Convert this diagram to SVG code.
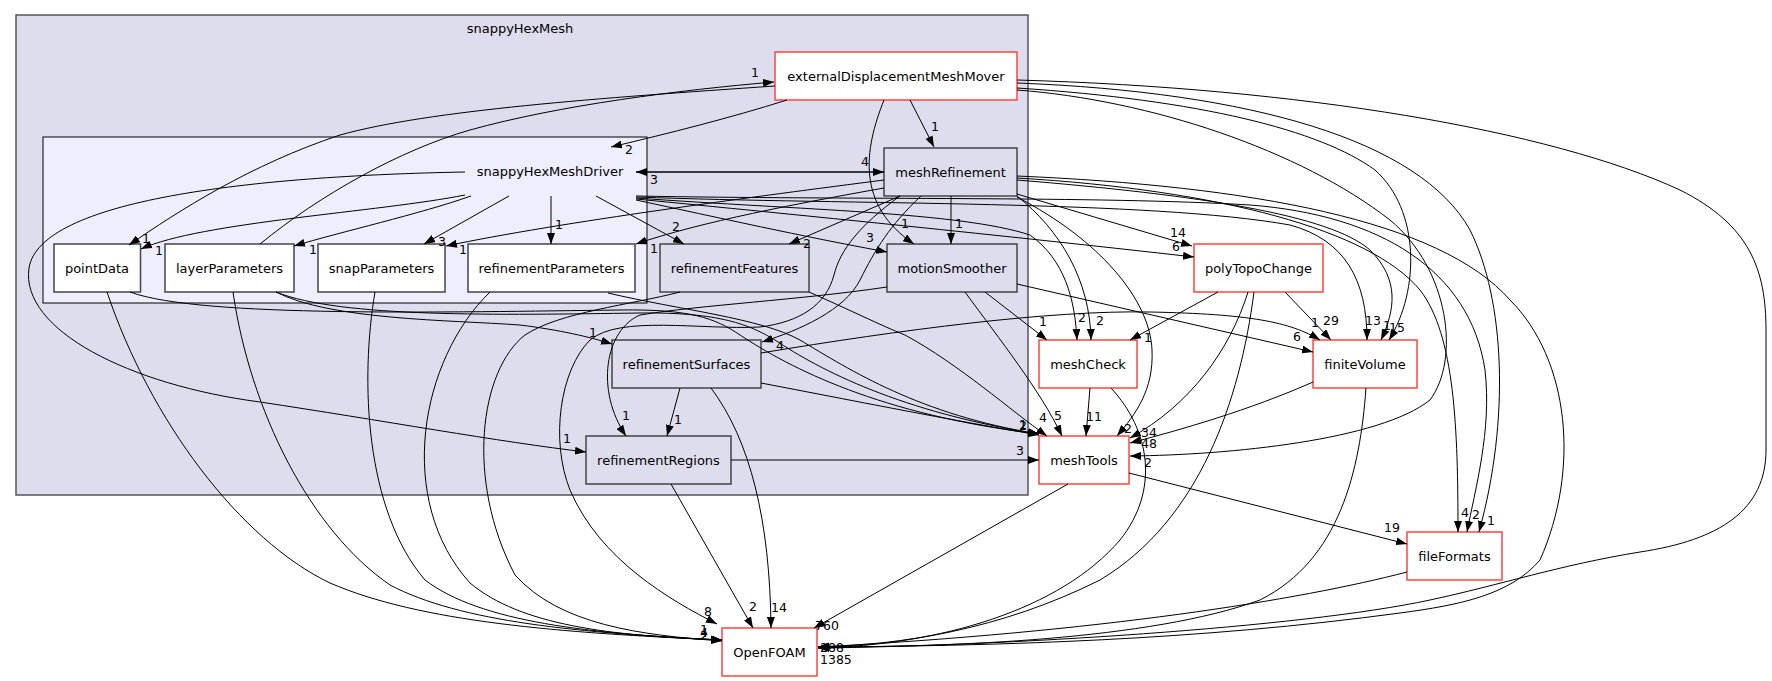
<svg xmlns="http://www.w3.org/2000/svg" width="1772" height="681" viewBox="0 0 1772 681">
<defs>
<marker id="ah" markerUnits="userSpaceOnUse" markerWidth="11" markerHeight="8" viewBox="0 0 11 8" refX="11" refY="4" orient="auto-start-reverse"><path d="M0,0 L11,4 L0,8 z" fill="#000"/></marker>
<style>
.co{fill:#ddddee;stroke:#555;stroke-width:1.5}
.ci{fill:#eeeeff;stroke:#000;stroke-width:1}
.nw{fill:#fff;stroke:#444;stroke-width:1.5}
.nc{fill:#ddddee;stroke:#444;stroke-width:1.5}
.nr{fill:#fff;stroke:#ff4444;stroke-width:1.5}
.t{font-family:"DejaVu Sans",sans-serif;font-size:13px;text-anchor:middle;fill:#000}
.e path{fill:none;stroke:#000;stroke-width:1;marker-end:url(#ah)}
.l{font-family:"DejaVu Sans",sans-serif;font-size:12.5px;text-anchor:middle;fill:#000}
</style>
</defs>
<rect width="1772" height="681" fill="#fff"/>
<g id="cluster_snappyHexMesh"><rect class="co" x="16" y="15" width="1012" height="480"/><text class="t" x="520" y="33">snappyHexMesh</text></g>
<g id="cluster_snappyHexMeshDriver"><rect class="ci" x="43" y="137" width="604" height="166"/><text class="t" x="550" y="176">snappyHexMeshDriver</text></g>
<g id="n_externalDisplacementMeshMover"><rect class="nr" x="775" y="52" width="242" height="48"/><text class="t" x="896" y="80.5">externalDisplacementMeshMover</text></g>
<g id="n_meshRefinement"><rect class="nc" x="884" y="148" width="133" height="48"/><text class="t" x="950.5" y="176.5">meshRefinement</text></g>
<g id="n_pointData"><rect class="nw" x="54" y="244" width="86.5" height="48"/><text class="t" x="97" y="272.5">pointData</text></g>
<g id="n_layerParameters"><rect class="nw" x="165" y="244" width="129" height="48"/><text class="t" x="229.5" y="272.5">layerParameters</text></g>
<g id="n_snapParameters"><rect class="nw" x="318" y="244" width="127" height="48"/><text class="t" x="381.5" y="272.5">snapParameters</text></g>
<g id="n_refinementParameters"><rect class="nw" x="468" y="244" width="167" height="48"/><text class="t" x="551.5" y="272.5">refinementParameters</text></g>
<g id="n_refinementFeatures"><rect class="nc" x="660" y="244" width="149" height="48"/><text class="t" x="734.5" y="272.5">refinementFeatures</text></g>
<g id="n_motionSmoother"><rect class="nc" x="887" y="244" width="130" height="48"/><text class="t" x="952" y="272.5">motionSmoother</text></g>
<g id="n_refinementSurfaces"><rect class="nc" x="612" y="340" width="149" height="48"/><text class="t" x="686.5" y="368.5">refinementSurfaces</text></g>
<g id="n_refinementRegions"><rect class="nc" x="586" y="436" width="145" height="48"/><text class="t" x="658.5" y="464.5">refinementRegions</text></g>
<g id="n_meshCheck"><rect class="nr" x="1039" y="340" width="98" height="48"/><text class="t" x="1088" y="368.5">meshCheck</text></g>
<g id="n_meshTools"><rect class="nr" x="1039" y="436" width="90" height="48"/><text class="t" x="1084" y="464.5">meshTools</text></g>
<g id="n_OpenFOAM"><rect class="nr" x="722" y="628" width="95" height="48"/><text class="t" x="769.5" y="656.5">OpenFOAM</text></g>
<g id="n_polyTopoChange"><rect class="nr" x="1194" y="244" width="129" height="48"/><text class="t" x="1258.5" y="272.5">polyTopoChange</text></g>
<g id="n_finiteVolume"><rect class="nr" x="1313" y="340" width="104" height="48"/><text class="t" x="1365" y="368.5">finiteVolume</text></g>
<g id="n_fileFormats"><rect class="nr" x="1407" y="532" width="95" height="48"/><text class="t" x="1454.5" y="560.5">fileFormats</text></g>
<g id="connectors" class="e">
<path d="M787,100 C730,118 670,133 611,147"/>
<path d="M910,100 L934,147"/>
<path d="M884,100 C864,150 856,205 914,244"/>
<path d="M775,86 C600,98 430,110 340,135 C250,165 180,210 129,245"/>
<path d="M260,244 C320,195 400,150 470,130 C560,105 680,90 774,82"/>
<path d="M1017,88 C1200,100 1320,130 1375,170 C1420,210 1420,290 1389,340"/>
<path d="M1017,90 C1150,100 1300,150 1390,220 C1450,270 1460,360 1430,400 C1380,440 1230,455 1130,456"/>
<path d="M1017,83 C1250,92 1420,140 1470,230 C1505,300 1510,420 1479,532"/>
<path d="M1017,80 C1300,88 1550,130 1680,190 C1750,225 1766,270 1766,330 L1766,450 C1766,510 1720,540 1640,552 C1560,565 1500,585 1430,600 C1300,628 1000,646 818,648"/>
<path d="M1017,176 C1250,186 1440,220 1510,300 C1570,360 1580,470 1540,560 C1510,595 1460,605 1400,613 C1200,640 1000,646 818,647"/>
<path d="M1017,178 C1220,190 1370,230 1420,290 C1455,335 1458,430 1458,532"/>
<path d="M1017,180 C1200,195 1330,215 1370,250 C1400,280 1395,310 1381,340"/>
<path d="M636,196 C850,200 1100,196 1250,205 C1380,215 1470,270 1485,370 C1492,430 1475,490 1467,532"/>
<path d="M636,197 C850,205 1150,200 1290,225 C1345,240 1367,280 1367,340"/>
<path d="M636,198 C800,210 960,212 1030,235 C1065,260 1075,300 1077,340"/>
<path d="M636,199 C800,215 1000,235 1194,257"/>
<path d="M636,200 C720,218 800,236 887,252"/>
<path d="M636,172 L884,172" style="marker-start:url(#ah);stroke-width:1.6"/>
<path d="M884,180 C760,196 560,222 446,246"/>
<path d="M884,188 C800,203 700,222 636,244"/>
<path d="M900,196 L789,244"/>
<path d="M951,196 L951,244"/>
<path d="M921,196 C890,225 875,250 860,280 C845,310 800,330 762,342"/>
<path d="M900,196 C860,225 840,250 834,275 C826,305 800,322 760,327 C700,330 620,315 590,340 C560,370 550,440 570,490 C600,560 670,600 717,624"/>
<path d="M887,287 C800,300 700,305 640,315 C605,330 595,390 626,436"/>
<path d="M680,292 C630,305 560,312 525,335 C480,370 465,480 515,575 C560,625 640,635 722,641"/>
<path d="M107,292 C150,420 240,540 330,583 C420,622 560,633 722,640"/>
<path d="M233,292 C250,410 310,530 390,585 C460,622 580,633 722,640"/>
<path d="M375,292 C360,380 365,510 425,580 C480,622 590,634 722,640"/>
<path d="M490,292 C420,360 395,500 470,583 C520,625 610,636 722,640"/>
<path d="M130,292 C200,318 450,312 620,310 C690,309 715,318 740,335 C790,368 880,415 1039,434"/>
<path d="M276,292 C340,318 500,315 640,313 C720,312 750,325 775,340 C820,370 900,412 1039,434"/>
<path d="M608,293 C680,310 760,318 800,340 C850,370 920,415 1039,434"/>
<path d="M276,292 C330,320 450,320 520,325 C560,330 590,337 612,344"/>
<path d="M761,383 C850,400 950,420 1039,435"/>
<path d="M809,292 C850,310 880,325 905,335 C960,365 1010,410 1047,436"/>
<path d="M680,388 L667,436"/>
<path d="M711,388 C750,440 770,520 771,628"/>
<path d="M761,353 C900,330 1050,310 1150,312 C1250,314 1290,322 1320,340"/>
<path d="M731,460 L1039,460"/>
<path d="M671,484 L753,628"/>
<path d="M985,292 L1047,340"/>
<path d="M965,292 C1000,340 1040,390 1062,436"/>
<path d="M1017,284 L1313,352"/>
<path d="M1017,194 L1192,246"/>
<path d="M1017,196 C1060,230 1090,280 1091,340"/>
<path d="M1017,197 C1100,240 1150,300 1152,350 C1154,390 1135,415 1117,436"/>
<path d="M1218,292 L1130,340"/>
<path d="M1285,292 L1331,340"/>
<path d="M1248,292 C1230,350 1190,405 1130,438"/>
<path d="M1254,292 C1240,400 1200,520 1100,580 C1000,630 900,645 818,647"/>
<path d="M1313,382 C1250,410 1180,430 1130,443"/>
<path d="M1366,388 C1360,470 1340,560 1260,600 C1150,640 950,647 818,647"/>
<path d="M1090,388 L1086,436"/>
<path d="M1111,388 C1150,430 1160,490 1120,540 C1060,610 940,645 818,648"/>
<path d="M1129,473 L1407,544"/>
<path d="M1068,484 L814,628"/>
<path d="M1407,572 C1300,600 1100,632 818,647"/>
<path d="M465,195 C380,212 200,222 141,249"/>
<path d="M471,196 C420,214 340,232 294,246"/>
<path d="M509,196 L424,244"/>
<path d="M551,196 L551,244"/>
<path d="M596,196 L684,244"/>
<path d="M465,172 C250,176 40,200 29,268 C20,330 130,385 260,402 C380,420 500,442 586,452"/>
</g>
<g id="edge_labels">
<text class="l" x="629" y="154">2</text>
<text class="l" x="935" y="131">1</text>
<text class="l" x="905" y="228">1</text>
<text class="l" x="146" y="243">1</text>
<text class="l" x="755" y="77">1</text>
<text class="l" x="1397" y="332">15</text>
<text class="l" x="1148" y="467">2</text>
<text class="l" x="1491" y="525">1</text>
<text class="l" x="159" y="255">1</text>
<text class="l" x="313" y="254">1</text>
<text class="l" x="442" y="246">3</text>
<text class="l" x="559" y="229">1</text>
<text class="l" x="676" y="231">2</text>
<text class="l" x="870" y="242">3</text>
<text class="l" x="567" y="443">1</text>
<text class="l" x="654" y="184">3</text>
<text class="l" x="865" y="166">4</text>
<text class="l" x="1176" y="251">6</text>
<text class="l" x="1082" y="322">2</text>
<text class="l" x="1373" y="325">13</text>
<text class="l" x="1476" y="519">2</text>
<text class="l" x="463" y="254">1</text>
<text class="l" x="654" y="253">1</text>
<text class="l" x="807" y="248">2</text>
<text class="l" x="959" y="228">1</text>
<text class="l" x="780" y="350">4</text>
<text class="l" x="1178" y="237">14</text>
<text class="l" x="1100" y="325">2</text>
<text class="l" x="1128" y="433">2</text>
<text class="l" x="1387" y="330">1</text>
<text class="l" x="1465" y="517">4</text>
<text class="l" x="1043" y="326">1</text>
<text class="l" x="1058" y="420">5</text>
<text class="l" x="1297" y="341">6</text>
<text class="l" x="1148" y="342">1</text>
<text class="l" x="1331" y="325">29</text>
<text class="l" x="1149" y="437">34</text>
<text class="l" x="1149" y="448">48</text>
<text class="l" x="1094" y="421">11</text>
<text class="l" x="1020" y="455">3</text>
<text class="l" x="678" y="424">1</text>
<text class="l" x="1315" y="327">1</text>
<text class="l" x="593" y="337">1</text>
<text class="l" x="1392" y="532">19</text>
<text class="l" x="626" y="420">1</text>
<text class="l" x="1043" y="422">4</text>
<text class="l" x="1023" y="429">1</text>
<text class="l" x="1023" y="430">2</text>
<text class="l" x="708" y="616">8</text>
<text class="l" x="753" y="611">2</text>
<text class="l" x="779" y="612">14</text>
<text class="l" x="827" y="630">760</text>
<text class="l" x="704" y="634">1</text>
<text class="l" x="704" y="637">4</text>
<text class="l" x="704" y="640">2</text>
<text class="l" x="820" y="652" style="text-anchor:start">288</text>
<text class="l" x="820" y="664" style="text-anchor:start">1385</text>
</g>
</svg>
